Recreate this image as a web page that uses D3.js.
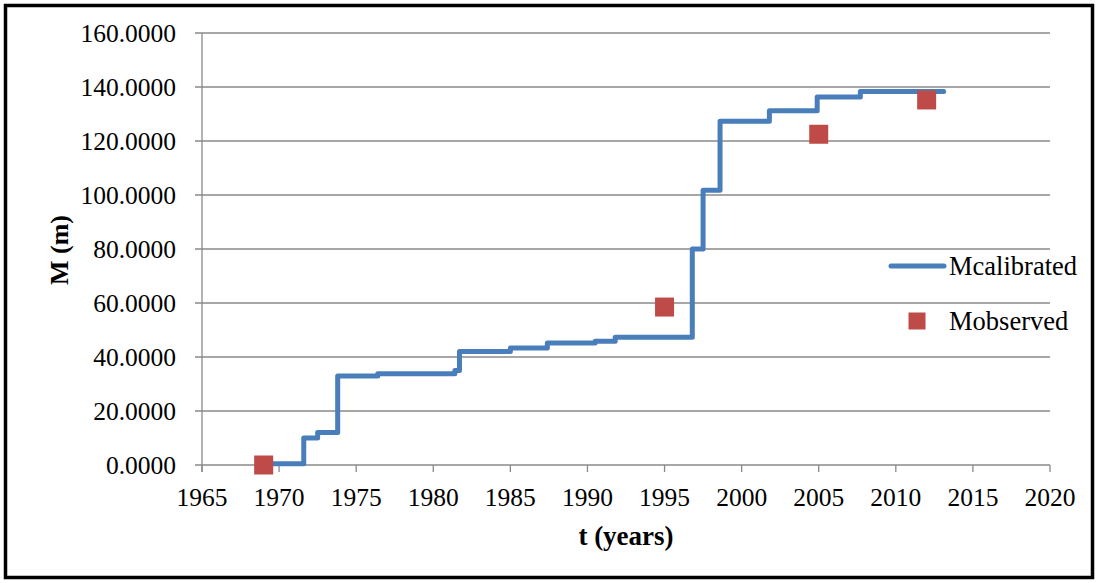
<!DOCTYPE html>
<html><head><meta charset="utf-8">
<script src="https://cdn.jsdelivr.net/npm/d3@7"></script>
<style>body{margin:0;background:#fff}svg{display:block}</style>
</head><body>
<svg id="c" width="1099" height="583"></svg>
<script>
const calibTimes = [1969, 1971.6, 1972.5, 1973.8, 1976.4, 1981.4, 1981.7, 1985.0, 1987.4, 1990.5, 1991.8, 1996.8, 1997.5, 1998.6, 2001.8, 2004.9, 2007.7, 2013.1];
const calibValues = [0.5, 10, 12, 33, 33.8, 35, 42, 43.3, 45.2, 45.8, 47.3, 80, 101.8, 127.3, 131.2, 136.3, 138.3, 138.3];
const obsTimes = [1969, 1995, 2005, 2012];
const obsValues = [0, 58.5, 122.5, 135.2];
const xTicks = [1965,1970,1975,1980,1985,1990,1995,2000,2005,2010,2015,2020];
const yTicks = [0,20,40,60,80,100,120,140,160];
const seriesNames = ["Mcalibrated","Mobserved"];

const svg = d3.select("#c");
const font = "'Liberation Serif','Times New Roman',serif";
const lineColor = "#4A7EBB", markColor = "#BE4B48", gridColor = "#8a8a8a";
const L = 202, R = 1050, T = 33, B = 465;
const x = d3.scaleLinear().domain([1965,2020]).range([L,R]);
const y = d3.scaleLinear().domain([0,160]).range([B,T]);

svg.append("rect").attr("x",5.5).attr("y",5.5).attr("width",1087).attr("height",572)
  .attr("fill","#fff").attr("stroke","#000").attr("stroke-width",3.5);

svg.append("g").selectAll("line").data(yTicks).join("line")
  .attr("x1",L-7).attr("x2",R).attr("y1",d=>y(d)).attr("y2",d=>y(d))
  .attr("stroke",gridColor).attr("stroke-width",1.3);
svg.append("line").attr("x1",L).attr("x2",L).attr("y1",T).attr("y2",B+7)
  .attr("stroke",gridColor).attr("stroke-width",1.3);
svg.append("g").selectAll("line").data(xTicks).join("line")
  .attr("x1",d=>x(d)).attr("x2",d=>x(d)).attr("y1",B).attr("y2",B+7)
  .attr("stroke",gridColor).attr("stroke-width",1.3);

svg.append("g").selectAll("text").data(yTicks).join("text")
  .attr("x",176).attr("y",d=>y(d)+9).attr("text-anchor","end")
  .attr("font-family",font).attr("font-size",25.5).text(d=>d3.format(".4f")(d));
svg.append("g").selectAll("text").data(xTicks).join("text")
  .attr("x",d=>x(d)).attr("y",B+41).attr("text-anchor","middle")
  .attr("font-family",font).attr("font-size",25.5).text(d=>d);

svg.append("text").attr("transform","translate(68,250) rotate(-90)").attr("text-anchor","middle")
  .attr("font-family",font).attr("font-size",26).attr("font-weight","bold").text("M (m)");
svg.append("text").attr("x",626).attr("y",545).attr("text-anchor","middle")
  .attr("font-family",font).attr("font-size",27).attr("font-weight","bold").text("t (years)");

const calib = calibTimes.map((t,i)=>[t,calibValues[i]]);
svg.append("path").datum(calib)
  .attr("d", d3.line().x(d=>x(d[0])).y(d=>y(d[1])).curve(d3.curveStepAfter))
  .attr("fill","none").attr("stroke",lineColor).attr("stroke-width",5)
  .attr("stroke-linejoin","round").attr("stroke-linecap","round");

const obs = obsTimes.map((t,i)=>[t,obsValues[i]]);
const ms = 19;
svg.append("g").selectAll("rect").data(obs).join("rect")
  .attr("x",d=>x(d[0])-ms/2).attr("y",d=>y(d[1])-ms/2).attr("width",ms).attr("height",ms)
  .attr("fill",markColor);

svg.append("line").attr("x1",891).attr("x2",944).attr("y1",266).attr("y2",266)
  .attr("stroke",lineColor).attr("stroke-width",5).attr("stroke-linecap","round");
svg.append("text").attr("x",949).attr("y",275).attr("font-family",font).attr("font-size",26.5).text(seriesNames[0]);
svg.append("rect").attr("x",917-8.5).attr("y",321-8.5).attr("width",17).attr("height",17).attr("fill",markColor);
svg.append("text").attr("x",949).attr("y",330).attr("font-family",font).attr("font-size",26.5).text(seriesNames[1]);
</script>
</body></html>
